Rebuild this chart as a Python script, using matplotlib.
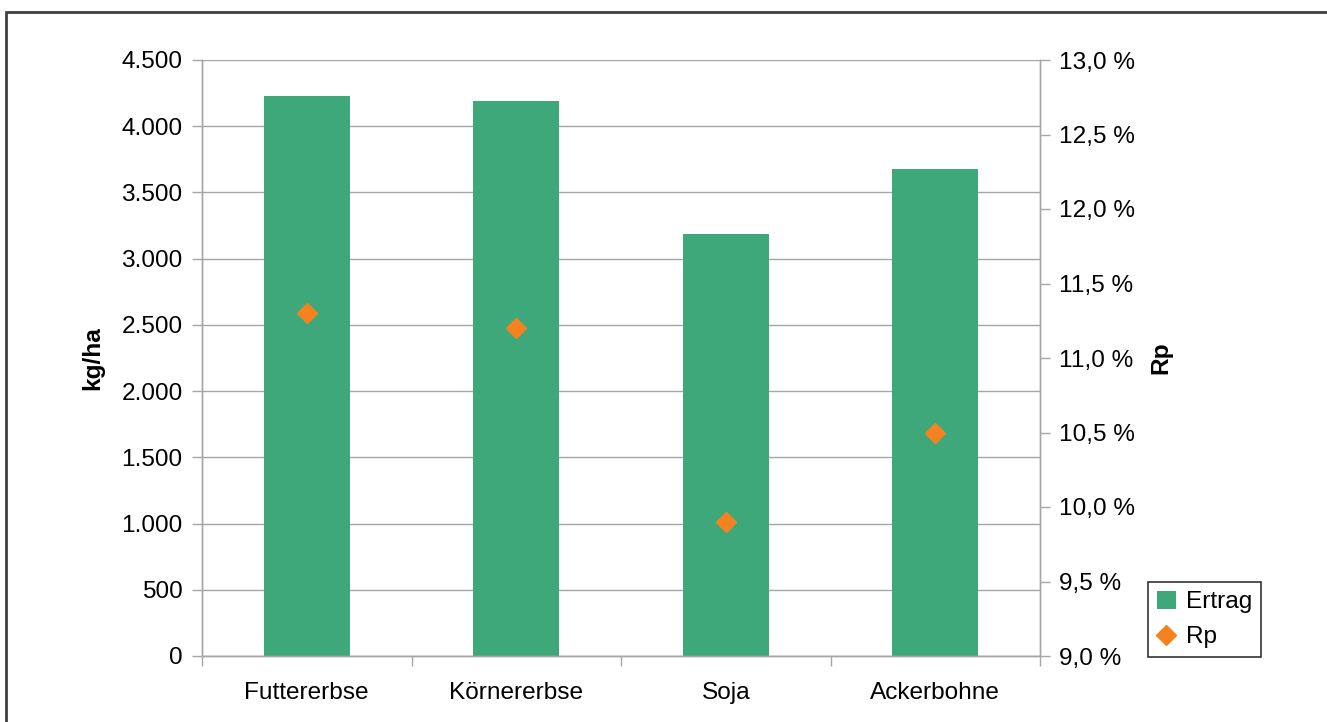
import matplotlib
matplotlib.use("Agg")
import matplotlib.pyplot as plt
from matplotlib.ticker import FixedLocator, FuncFormatter
from matplotlib.lines import Line2D
from matplotlib.patches import Patch, Rectangle

plt.rcParams['font.family'] = ['Liberation Sans', 'DejaVu Sans']

categories = ["Futtererbse", "Körnererbse", "Soja", "Ackerbohne"]
ertrag = [4230, 4190, 3190, 3680]      # kg/ha
rp = [11.3, 11.2, 9.9, 10.5]           # %

bar_color = "#3FA87B"
marker_color = "#F58220"
axis_gray = "#A6A6A6"
FS = 17.6

fig = plt.figure(figsize=(13.27, 7.22), dpi=100)
ax = fig.add_axes([202/1327, 1-656/722, 838/1327, 596/722])
ax2 = ax.twinx()

x = list(range(len(categories)))
ax.bar(x, ertrag, width=0.41, color=bar_color, zorder=2)
ax.set_xlim(-0.5, len(categories) - 0.5)
ax.set_ylim(0, 4500)
ax.set_yticks(range(0, 4501, 500))
ax.yaxis.set_major_formatter(FuncFormatter(lambda v, p: f"{int(v):,}".replace(",", ".")))
ax.grid(axis='y', color=axis_gray, linewidth=1, zorder=0)
ax.set_axisbelow(True)

ax.set_xticks(x)
ax.set_xticklabels(categories, fontsize=FS)
ax.xaxis.set_minor_locator(FixedLocator([i - 0.5 for i in range(len(categories) + 1)]))
ax.tick_params(axis='x', which='major', length=0, pad=19)
ax.tick_params(axis='x', which='minor', length=7, color=axis_gray, width=1)
ax.tick_params(axis='y', length=7, color=axis_gray, width=1, labelsize=FS, pad=7)

ax2.plot(x, rp, linestyle='none', marker='D', markersize=10, color=marker_color, zorder=3)
ax2.set_ylim(9.0, 13.0)
ax2.set_yticks([9.0 + 0.5 * i for i in range(9)])
ax2.yaxis.set_major_formatter(FuncFormatter(lambda v, p: f"{v:.1f} %".replace(".", ",")))
ax2.tick_params(axis='y', length=7, color=axis_gray, width=1, labelsize=FS, pad=7)

for a in (ax, ax2):
    a.spines['top'].set_visible(False)
    for s in ('left', 'right', 'bottom'):
        a.spines[s].set_color(axis_gray)
        a.spines[s].set_linewidth(1)

ax.set_ylabel("kg/ha", fontsize=FS, fontweight='bold', labelpad=12)
ax2.set_ylabel("Rp", fontsize=FS, fontweight='bold', labelpad=10)

# outer chart frame (left and top edges)
fig.patches.append(Rectangle((6/1327, -0.05), 1.2, 1 - 12/722 + 0.05, transform=fig.transFigure,
                             fill=False, edgecolor="#404040", linewidth=2))

handles = [Patch(facecolor=bar_color, edgecolor='none'),
           Line2D([], [], linestyle='none', marker='D', markersize=10, color=marker_color)]
leg = fig.legend(handles, ["Ertrag", "Rp"], loc='lower left',
                 bbox_to_anchor=(1148/1327, 1-657/722), fontsize=FS,
                 frameon=True, fancybox=False, edgecolor='black', borderpad=0.35,
                 borderaxespad=0, handlelength=0.8, handleheight=0.8, handletextpad=0.4,
                 labelspacing=0.5)
leg.get_frame().set_linewidth(1.2)

fig.savefig("out.png", dpi=100)
